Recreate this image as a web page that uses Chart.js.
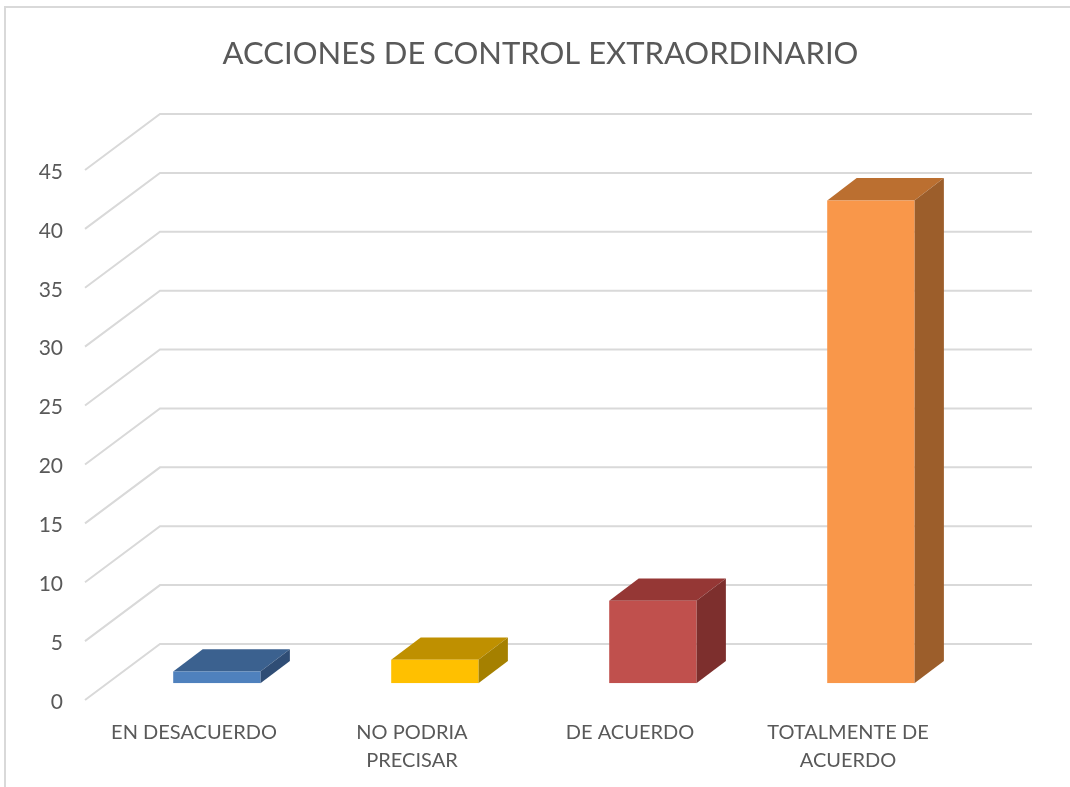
<!DOCTYPE html>
<html>
<head>
<meta charset="utf-8">
<style>html,body{margin:0;padding:0;background:#fff}canvas{display:block}</style>
<script src="https://cdn.jsdelivr.net/npm/chart.js@4"></script>
</head>
<body>
<canvas id="c" width="1070" height="787"></canvas>
<script>
const titleText = 'ACCIONES DE CONTROL EXTRAORDINARIO';
const categories = [['EN DESACUERDO'], ['NO PODRIA', 'PRECISAR'], ['DE ACUERDO'], ['TOTALMENTE DE', 'ACUERDO']];
const values = [1, 2, 7, 41];
const frontColors = ['#4f81bd', '#ffc000', '#c0504d', '#f9974a'];
const topColors = ['#3b618f', '#bf9000', '#953735', '#bb6f30'];
const sideColors = ['#2f4d75', '#a58000', '#7d2f2d', '#9c5e2b'];
const yMax = 45, yStep = 5;
const textColor = '#595959', lineColor = '#d9d9d9';
const FONT = 'Lato';

const wallDX = 75, wallDY = -56;       // floor depth for gridlines
const barShiftX = 22.8, barShiftY = -16.7; // bars sit inside the floor
const barDX = 29.5, barDY = -22.3;     // depth of each bar

function poly(ctx, pts, fill) {
  ctx.beginPath();
  pts.forEach((p, i) => i ? ctx.lineTo(p[0], p[1]) : ctx.moveTo(p[0], p[1]));
  ctx.closePath();
  ctx.fillStyle = fill;
  ctx.fill();
}

const threeD = {
  id: 'threeD',
  afterLayout(chart) {
    const t = chart.titleBlock;
    t.left = 11; t.right = chart.width; t.width = chart.width - 11;
    t.top = 0;
  },
  beforeDraw(chart) {
    // nudge the y tick labels to where the reference sets them
    chart.scales.y.getLabelItems().forEach(item => { item.textOffset = 2; });
  },
  beforeDatasetsDraw(chart) {
    const ctx = chart.ctx, xs = chart.scales.x, ys = chart.scales.y;
    ctx.save();
    ctx.fillStyle = lineColor;
    ctx.fillRect(4, 6, chart.width - 4, 2);
    ctx.fillRect(4, 6, 2, chart.height - 6);
    ctx.strokeStyle = lineColor;
    ctx.lineWidth = 2;
    ys.ticks.forEach(t => {
      const y = ys.getPixelForValue(t.value);
      ctx.beginPath();
      ctx.moveTo(xs.left, y);
      ctx.lineTo(xs.left + wallDX, y + wallDY);
      ctx.lineTo(xs.right + wallDX, y + wallDY);
      ctx.stroke();
    });
    ctx.restore();

    ctx.save();
    ctx.translate(barShiftX, barShiftY);
    chart.getDatasetMeta(0).data.forEach((b, i) => {
      const l = b.x - b.width / 2, r = b.x + b.width / 2, top = b.y, base = b.base;
      poly(ctx, [[l, top], [r, top], [r + barDX, top + barDY], [l + barDX, top + barDY]], topColors[i]);
      poly(ctx, [[r, top], [r + barDX, top + barDY], [r + barDX, base + barDY], [r, base]], sideColors[i]);
    });
    // the library's own bars are drawn under this same shift
  },
  afterDatasetsDraw(chart) {
    chart.ctx.restore();
  }
};

new Chart(document.getElementById('c'), {
  type: 'bar',
  data: {
    labels: categories,
    datasets: [{
      data: values,
      backgroundColor: frontColors,
      borderWidth: 0,
      barPercentage: 0.4,
      categoryPercentage: 1
    }]
  },
  plugins: [threeD],
  options: {
    responsive: false,
    animation: false,
    devicePixelRatio: 1,
    layout: { padding: { left: 0, right: 113, top: 0, bottom: 0 } },
    plugins: {
      legend: { display: false },
      tooltip: { enabled: false },
      title: {
        display: true,
        text: titleText,
        color: textColor,
        font: { family: FONT, size: 31, weight: 'normal', lineHeight: 1.2 },
        padding: { top: 35.4, bottom: 97.4 }
      }
    },
    scales: {
      x: {
        grid: { display: false, drawTicks: false },
        border: { display: false },
        afterFit(s) { s.height = 87; },
        ticks: {
          color: textColor, padding: 19, maxRotation: 0, autoSkip: false,
          font: { family: FONT, size: 20, lineHeight: 1.4 }
        }
      },
      y: {
        min: 0, max: yMax,
        grid: { display: false, drawTicks: false },
        border: { display: false },
        afterFit(s) { s.width = 85; },
        ticks: {
          stepSize: yStep, color: textColor, padding: 22,
          font: { family: FONT, size: 21 }
        }
      }
    }
  }
});
</script>
</body>
</html>
